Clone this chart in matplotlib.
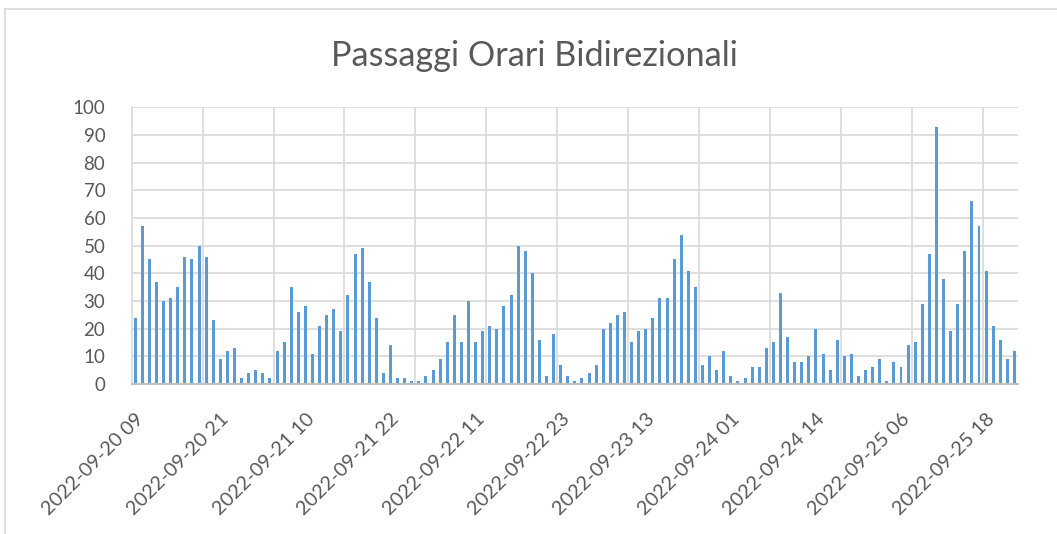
import matplotlib.pyplot as plt
from matplotlib.lines import Line2D

# hourly bidirectional passages (125 categories)
passaggi = [24, 57, 45, 37, 30, 31, 35, 46, 45, 50,
            46, 23, 9, 12, 13, 2, 4, 5, 4, 2,
            12, 15, 35, 26, 28, 11, 21, 25, 27, 19,
            32, 47, 49, 37, 24, 4, 14, 2, 2, 1,
            1, 3, 5, 9, 15, 25, 15, 30, 15, 19,
            21, 20, 28, 32, 50, 48, 40, 16, 3, 18,
            7, 3, 1, 2, 4, 7, 20, 22, 25, 26,
            15, 19, 20, 24, 31, 31, 45, 54, 41, 35,
            7, 10, 5, 12, 3, 1, 2, 6, 6, 13,
            15, 33, 17, 8, 8, 10, 20, 11, 5, 16,
            10, 11, 3, 5, 6, 9, 1, 8, 6, 14,
            15, 29, 47, 93, 38, 19, 29, 48, 66, 57,
            41, 21, 16, 9, 12]

# tick labels shown every 12 categories
tick_labels = ['2022-09-20 09', '2022-09-20 21', '2022-09-21 10', '2022-09-21 22',
               '2022-09-22 11', '2022-09-22 23', '2022-09-23 13', '2022-09-24 01',
               '2022-09-24 14', '2022-09-25 06', '2022-09-25 18']
tick_step = 12

plt.rcParams['font.family'] = ['Lato', 'DejaVu Sans']
testo = '#595959'

fig = plt.figure(figsize=(10.57, 5.34), dpi=100)
ax = fig.add_axes([0.1246, 0.281, 0.8385, 0.518])

x = list(range(len(passaggi)))
ax.bar(x, passaggi, width=0.42, color='#5B9BD5', zorder=3)

# axes limits and grid like the excel chart
ax.set_xlim(-0.5, len(passaggi) - 0.5)
ax.set_ylim(0, 100)
ax.set_yticks(range(0, 101, 10))
ax.yaxis.grid(True, color='#d9d9d9', linewidth=1.2, zorder=0)
for g in range(10, len(passaggi), 10):
    ax.axvline(g - 0.5, color='#d9d9d9', linewidth=1.2, zorder=0)

ax.set_xticks([i * tick_step for i in range(len(tick_labels))])
ax.set_xticklabels(tick_labels, rotation=45, ha='right', rotation_mode='anchor')

ax.tick_params(axis='both', length=0, colors=testo)
ax.tick_params(axis='y', pad=19, labelsize=13.5)
ax.tick_params(axis='x', pad=19, labelsize=14.3)

for side in ['top', 'right']:
    ax.spines[side].set_visible(False)
ax.spines['left'].set_color('#d9d9d9')
ax.spines['left'].set_linewidth(1.2)
ax.spines['bottom'].set_color('#bfbfbf')
ax.spines['bottom'].set_linewidth(1.5)
ax.spines['bottom'].set_zorder(4)

fig.suptitle('Passaggi Orari Bidirezionali', x=0.506, y=0.925, fontsize=24.7,
             color=testo)

# chart border (only top and left visible in the screenshot)
fig.add_artist(Line2D([0.005, 1.0], [0.983, 0.983], color='#d9d9d9', linewidth=1.2))
fig.add_artist(Line2D([0.005, 0.005], [0.0, 0.983], color='#d9d9d9', linewidth=1.2))

plt.savefig('out.png', dpi=100)
